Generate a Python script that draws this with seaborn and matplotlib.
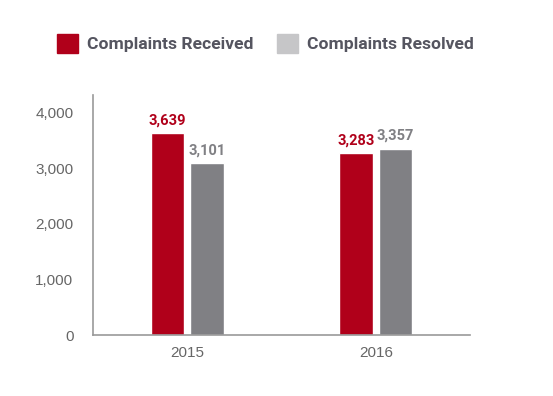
import pandas as pd
import matplotlib
matplotlib.use("Agg")
import matplotlib.pyplot as plt
from matplotlib.patches import Patch
import seaborn as sns

years = ["2015", "2016"]
received = [3639, 3283]
resolved = [3101, 3357]
series = ["Complaints Received", "Complaints Resolved"]

df = pd.DataFrame({
    "year": years * 2,
    "count": received + resolved,
    "series": [series[0]] * 2 + [series[1]] * 2,
})

red = "#B0001A"
gray = "#808084"
legend_gray = "#C6C6C8"

sns.set_style("white")
plt.rcParams['font.family'] = ['Roboto', 'DejaVu Sans']

fig = plt.figure(figsize=(5.53, 3.96), dpi=100)
ax = fig.add_axes([0.168, 0.154, 0.682, 0.606])
sns.barplot(data=df, x="year", y="count", hue="series", palette=[red, gray],
            width=0.42, gap=0.15, ax=ax, legend=False, saturation=1)

# value labels
for cont, col in zip(ax.containers, [red, gray]):
    labels = [f"{v:,.0f}" for v in cont.datavalues]
    ax.bar_label(cont, labels=labels, padding=4, color=col, fontsize=10.5,
                 fontweight="bold")

ax.set_xlim(-0.5, 1.5)
ax.set_ylim(0, 4320)
ax.set_yticks([0, 1000, 2000, 3000, 4000])
ax.yaxis.set_major_formatter(matplotlib.ticker.FuncFormatter(lambda v, p: f"{v:,.0f}"))
ax.set_xlabel("")
ax.set_ylabel("")
for s in ["top", "right"]:
    ax.spines[s].set_visible(False)
for s in ["left", "bottom"]:
    ax.spines[s].set_color("#999999")
    ax.spines[s].set_linewidth(1.2)
ax.tick_params(axis="both", length=0, labelsize=11, labelcolor="#666666", pad=14)
ax.tick_params(axis="x", pad=8)
for lab in ax.get_xticklabels() + ax.get_yticklabels():
    lab.set_family(['Liberation Sans', 'DejaVu Sans'])

handles = [Patch(color=red), Patch(color=legend_gray)]
fig.legend(handles, series, loc="upper left", bbox_to_anchor=(0.075, 0.955), ncol=2,
           frameon=False, handlelength=1.2, handleheight=1.3, handletextpad=0.5,
           columnspacing=1.35, prop={"weight": "bold", "size": 12.6},
           labelcolor="#555560")

fig.savefig("out.png", dpi=100)
